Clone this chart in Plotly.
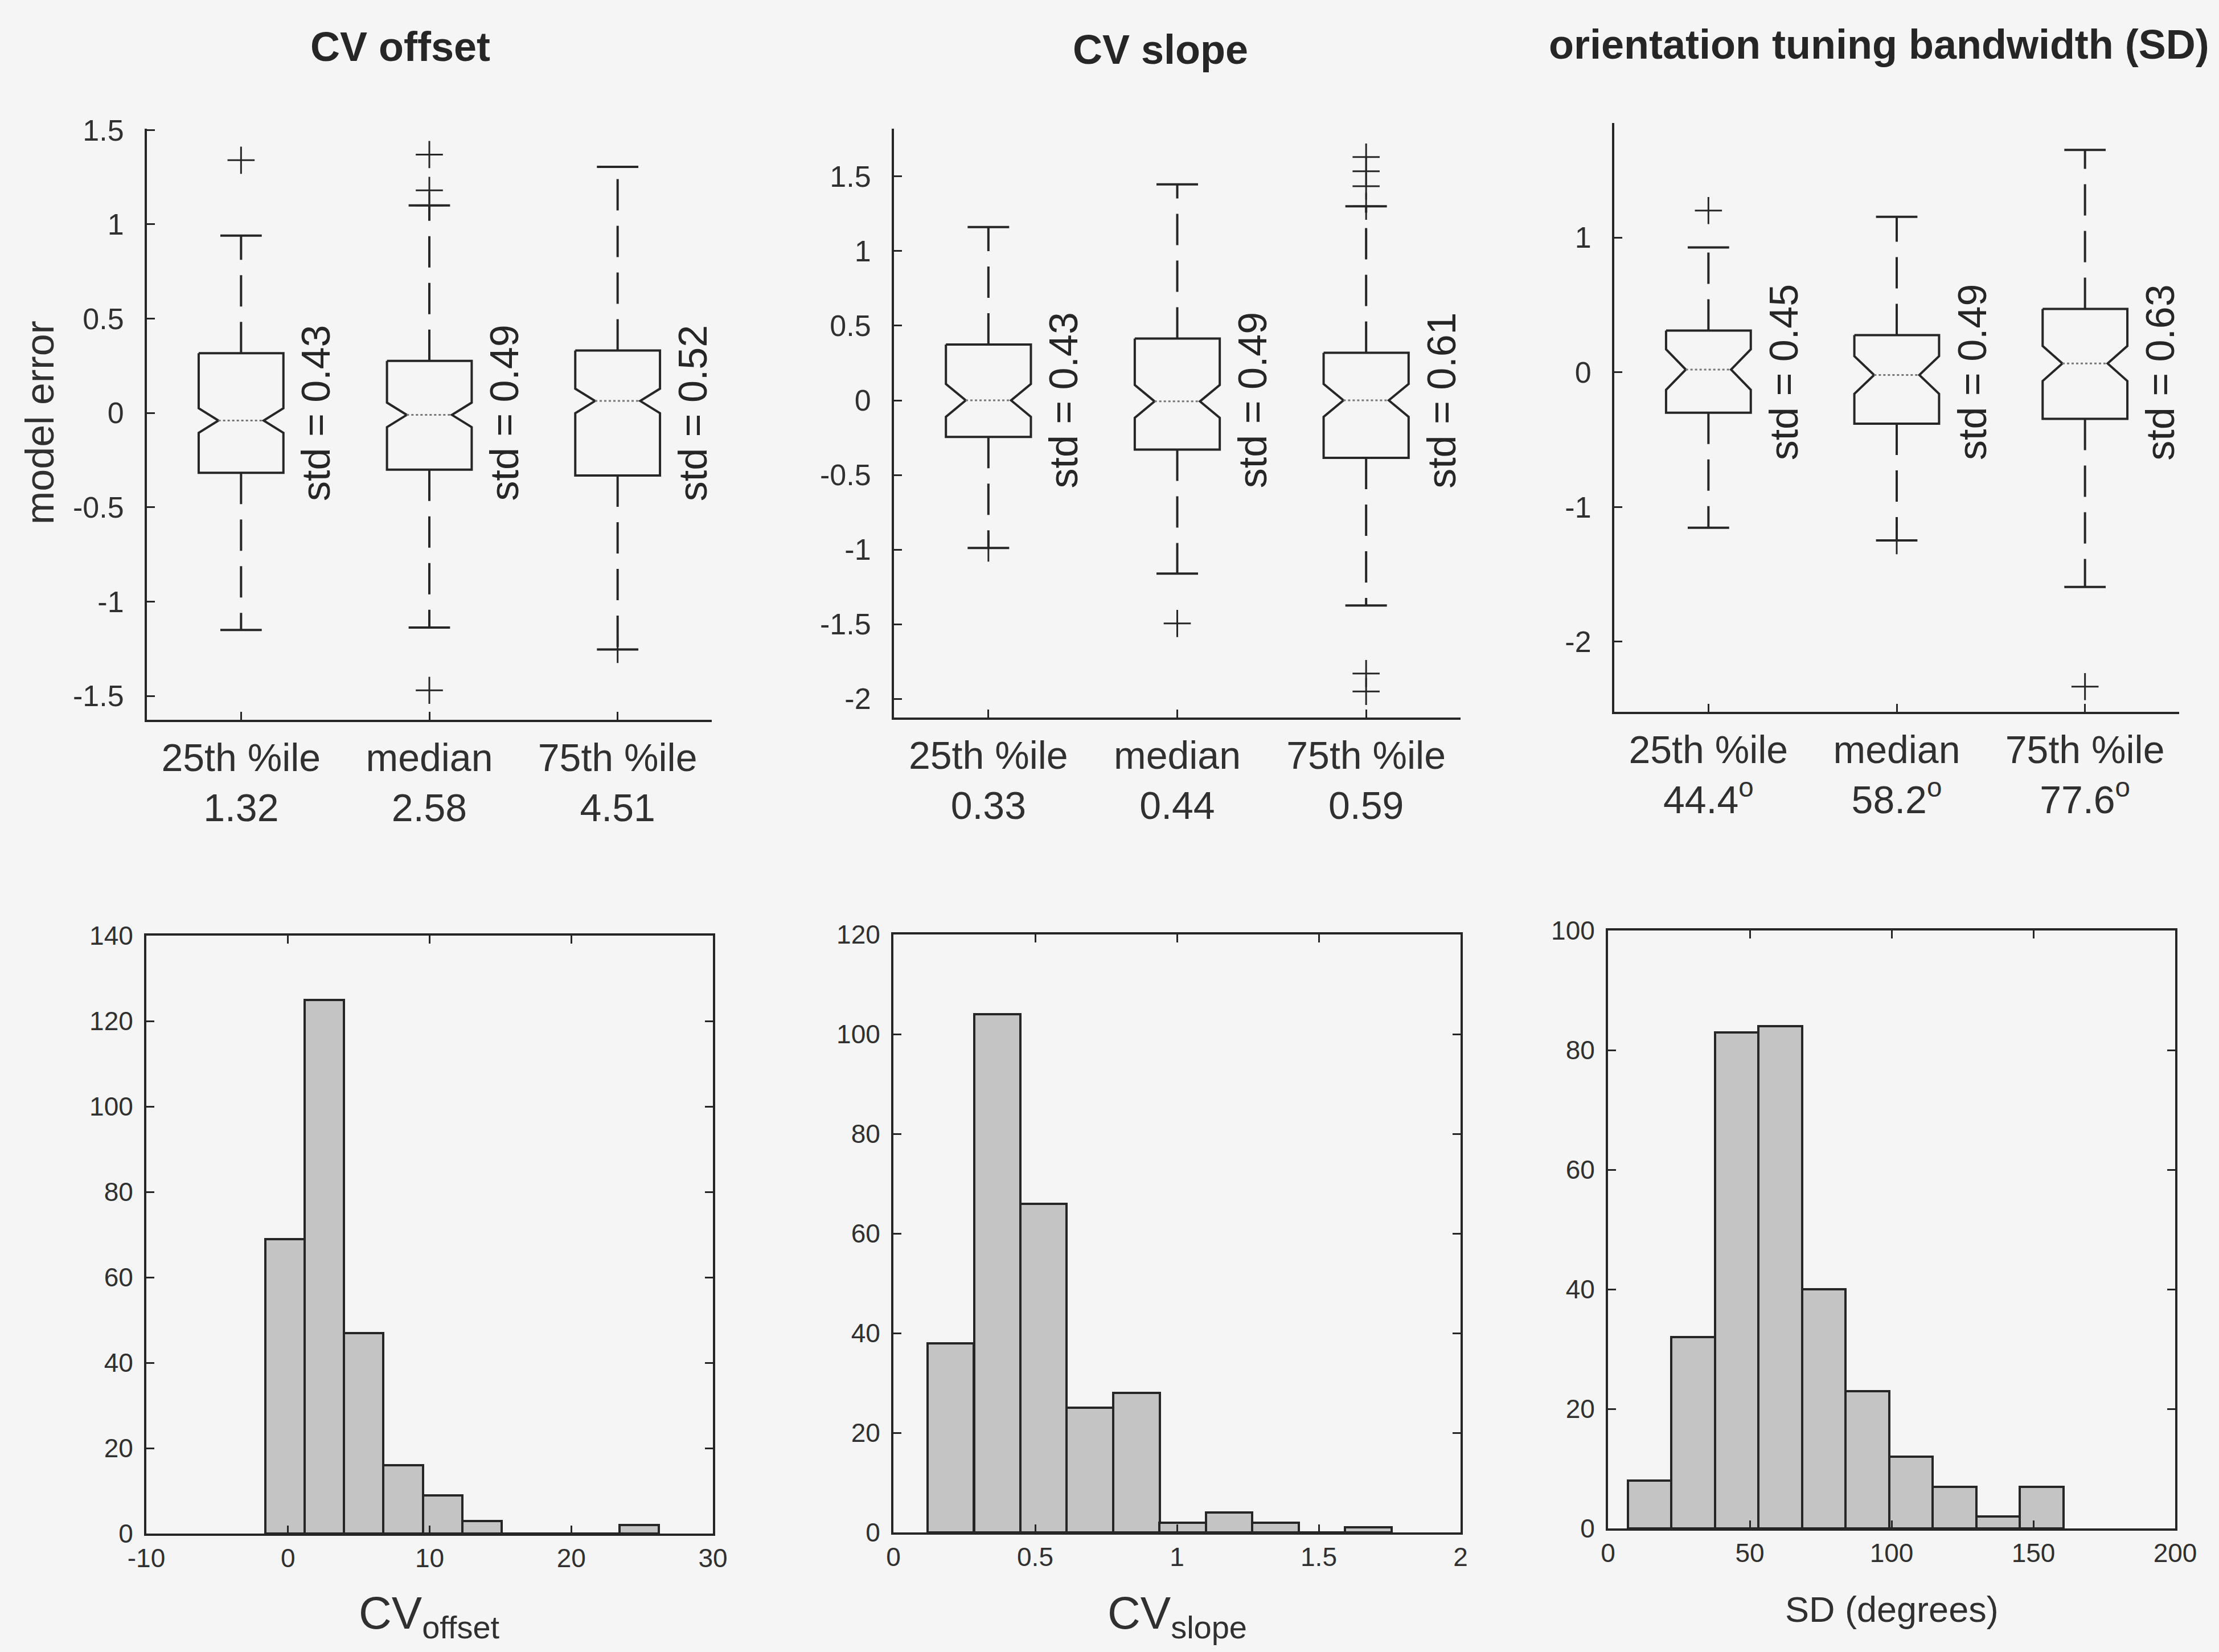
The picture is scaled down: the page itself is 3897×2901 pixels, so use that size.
import plotly.graph_objects as go

W, H = 3897, 2901
BG = "#f5f5f5"
INK = "#262626"
FONT = "Liberation Sans, Arial, Helvetica, sans-serif"

# ------------------------------------------------------------------ data
positions = [1, 2, 3]

titles = ["CV offset", "CV slope", "orientation tuning bandwidth (SD)"]

labels_offset = ["25th %ile<br>1.32", "median<br>2.58", "75th %ile<br>4.51"]
labels_slope = ["25th %ile<br>0.33", "median<br>0.44", "75th %ile<br>0.59"]
labels_sd = ["25th %ile<br>44.4<sup>o</sup>", "median<br>58.2<sup>o</sup>", "75th %ile<br>77.6<sup>o</sup>"]

# CV offset model error boxes
off_q1 = [-0.317, -0.300, -0.331]
off_med = [-0.040, -0.010, 0.064]
off_q3 = [0.317, 0.276, 0.331]
off_lo = [-1.150, -1.137, -1.253]
off_hi = [0.940, 1.100, 1.305]
off_notch = [0.065, 0.065, 0.065]
off_out_x = [1, 2, 2, 2, 2, 3]
off_out_y = [1.34, 1.37, 1.18, 1.10, -1.47, -1.253]
off_std = ["0.43", "0.49", "0.52"]

# CV slope model error boxes
slp_q1 = [-0.245, -0.330, -0.385]
slp_med = [0.000, -0.007, 0.000]
slp_q3 = [0.374, 0.414, 0.319]
slp_lo = [-0.989, -1.161, -1.374]
slp_hi = [1.161, 1.447, 1.300]
slp_notch = [0.11, 0.11, 0.11]
slp_out_x = [1, 2, 3, 3, 3, 3, 3, 3]
slp_out_y = [-0.99, -1.495, 1.63, 1.535, 1.435, 1.30, -1.83, -1.95]
slp_std = ["0.43", "0.49", "0.61"]

# orientation tuning bandwidth model error boxes
sd_q1 = [-0.300, -0.382, -0.346]
sd_med = [0.020, -0.020, 0.065]
sd_q3 = [0.309, 0.276, 0.470]
sd_lo = [-1.154, -1.248, -1.593]
sd_hi = [0.927, 1.154, 1.650]
sd_notch = [0.15, 0.14, 0.13]
sd_out_x = [1, 2, 3]
sd_out_y = [1.20, -1.25, -2.333]
sd_std = ["0.45", "0.49", "0.63"]

# histograms
off_bin_centers = [-0.21, 2.57, 5.35, 8.13, 10.91, 13.69, 16.47, 19.25, 22.03, 24.81]
off_bin_width = 2.78
off_counts = [69, 125, 47, 16, 9, 3, 0, 0, 0, 2]

slp_bin_centers = [0.202, 0.366, 0.529, 0.693, 0.857, 1.020, 1.184, 1.347, 1.511, 1.675]
slp_bin_width = 0.1636
slp_counts = [38, 104, 66, 25, 28, 2, 4, 2, 0, 1]

sd_bin_centers = [14.68, 30.04, 45.40, 60.76, 76.12, 91.48, 106.84, 122.20, 137.56, 152.92]
sd_bin_width = 15.36
sd_counts = [8, 32, 83, 84, 40, 23, 12, 7, 2, 7]

# tick values
off_yticks = [-1.5, -1, -0.5, 0, 0.5, 1, 1.5]
slp_yticks = [-2, -1.5, -1, -0.5, 0, 0.5, 1, 1.5]
sd_yticks = [-2, -1, 0, 1]
h1_xticks = [-10, 0, 10, 20, 30]
h1_yticks = [0, 20, 40, 60, 80, 100, 120, 140]
h2_xticks = [0, 0.5, 1, 1.5, 2]
h2_yticks = [0, 20, 40, 60, 80, 100, 120]
h3_xticks = [0, 50, 100, 150, 200]
h3_yticks = [0, 20, 40, 60, 80, 100]

# ------------------------------------------------------------------ styling constants
BOX_HW = 0.225     # box half width (category units)
NOTCH_HW = 0.12    # half width at the notch waist
CAP_HW = 0.11      # whisker cap half width
LW = 4

# panel rectangles in pixels: left, right, top, bottom
rects = {
    1: (258, 1250, 226, 1264),
    2: (1570, 2565, 226, 1260),
    3: (2835, 3827, 216, 1250),
    4: (257, 1252, 1643, 2693),
    5: (1569, 2565, 1641, 2691),
    6: (2824, 3820, 1634, 2684),
}


def dom(i):
    l, r, t, b = rects[i]
    return [l / W, r / W], [1 - b / H, 1 - t / H]


def fmt(v):
    return "%g" % v


fig = go.Figure()

box_sets = [
    (off_q1, off_med, off_q3, off_lo, off_hi, off_notch, off_out_x, off_out_y, off_std),
    (slp_q1, slp_med, slp_q3, slp_lo, slp_hi, slp_notch, slp_out_x, slp_out_y, slp_std),
    (sd_q1, sd_med, sd_q3, sd_lo, sd_hi, sd_notch, sd_out_x, sd_out_y, sd_std),
]

annotations = []

for p, (q1s, meds, q3s, los, his, notches, ox, oy, stds) in enumerate(box_sets, start=1):
    xa = "x" if p == 1 else "x%d" % p
    ya = "y" if p == 1 else "y%d" % p
    for c, q1, md, q3, lo, hi, n in zip(positions, q1s, meds, q3s, los, his, notches):
        bx = [c - BOX_HW, c + BOX_HW, c + BOX_HW, c + NOTCH_HW, c + BOX_HW, c + BOX_HW,
              c - BOX_HW, c - BOX_HW, c - NOTCH_HW, c - BOX_HW, c - BOX_HW]
        by = [q3, q3, md + n, md, md - n, q1, q1, md - n, md, md + n, q3]
        fig.add_trace(go.Scatter(x=bx, y=by, mode="lines", xaxis=xa, yaxis=ya,
                                 line=dict(color=INK, width=LW), hoverinfo="skip"))
        fig.add_trace(go.Scatter(x=[c - NOTCH_HW, c + NOTCH_HW], y=[md, md], mode="lines",
                                 xaxis=xa, yaxis=ya,
                                 line=dict(color="#777777", width=3, dash="4px,4px"),
                                 hoverinfo="skip"))
        fig.add_trace(go.Scatter(x=[c, c], y=[q3, hi], mode="lines", xaxis=xa, yaxis=ya,
                                 line=dict(color=INK, width=LW, dash="55px,27px"),
                                 hoverinfo="skip"))
        fig.add_trace(go.Scatter(x=[c, c], y=[q1, lo], mode="lines", xaxis=xa, yaxis=ya,
                                 line=dict(color=INK, width=LW, dash="55px,27px"),
                                 hoverinfo="skip"))
        fig.add_trace(go.Scatter(x=[c - CAP_HW, c + CAP_HW, None, c - CAP_HW, c + CAP_HW],
                                 y=[hi, hi, None, lo, lo], mode="lines", xaxis=xa, yaxis=ya,
                                 line=dict(color=INK, width=LW), hoverinfo="skip"))
    fig.add_trace(go.Scatter(x=ox, y=oy, mode="markers", xaxis=xa, yaxis=ya,
                             marker=dict(symbol="cross-thin", size=34, color=INK,
                                         line=dict(color=INK, width=3)),
                             hoverinfo="skip"))
    for c, s in zip(positions, stds):
        annotations.append(dict(x=c + 0.4, y=0, xref=xa, yref=ya, text="std = " + s,
                                textangle=-90, showarrow=False,
                                xanchor="center", yanchor="middle",
                                font=dict(family=FONT, size=70, color=INK)))

hist_sets = [
    (off_bin_centers, off_bin_width, off_counts),
    (slp_bin_centers, slp_bin_width, slp_counts),
    (sd_bin_centers, sd_bin_width, sd_counts),
]
for k, (cx, bw, cnt) in enumerate(hist_sets, start=4):
    fig.add_trace(go.Bar(x=cx, y=cnt, width=bw, xaxis="x%d" % k, yaxis="y%d" % k,
                         marker=dict(color="#c4c4c4", line=dict(color=INK, width=LW)),
                         hoverinfo="skip"))

# ------------------------------------------------------------------ axes
common = dict(showline=True, linewidth=LW, linecolor=INK, ticks="inside", ticklen=14,
              tickwidth=3, tickcolor=INK, showgrid=False, zeroline=False,
              automargin=False, tickfont=dict(family=FONT, color="#303030"))

layout = dict(template="none", width=W, height=H, autosize=False,
              margin=dict(l=0, r=0, t=0, b=0, pad=0, autoexpand=False),
              paper_bgcolor=BG, plot_bgcolor=BG, showlegend=False, bargap=0,
              font=dict(family=FONT, color=INK))

box_labels = [labels_offset, labels_slope, labels_sd]
box_yticks = [off_yticks, slp_yticks, sd_yticks]
box_yranges = [[-1.626, 1.507], [-2.125, 1.82], [-2.52, 1.85]]
for p in range(1, 4):
    xd, yd = dom(p)
    xk = "xaxis" if p == 1 else "xaxis%d" % p
    yk = "yaxis" if p == 1 else "yaxis%d" % p
    ya = "y" if p == 1 else "y%d" % p
    xa = "x" if p == 1 else "x%d" % p
    ax = dict(common)
    ax.update(domain=xd, range=[0.5, 3.5], anchor=ya, tickvals=positions,
              ticktext=box_labels[p - 1], ticklabelstandoff=4,
              tickfont=dict(family=FONT, size=68, color="#303030"))
    layout[xk] = ax
    ay = dict(common)
    yt = box_yticks[p - 1]
    ay.update(domain=yd, range=box_yranges[p - 1], anchor=xa, tickvals=yt,
              ticktext=[fmt(v) for v in yt], ticklabelstandoff=26,
              tickfont=dict(family=FONT, size=52, color="#303030"))
    layout[yk] = ay

hist_x = [h1_xticks, h2_xticks, h3_xticks]
hist_y = [h1_yticks, h2_yticks, h3_yticks]
for k in range(4, 7):
    xd, yd = dom(k)
    xt = hist_x[k - 4]
    yt = hist_y[k - 4]
    ax = dict(common)
    ax.update(domain=xd, range=[xt[0], xt[-1]], anchor="y%d" % k, mirror="ticks",
              tickvals=xt, ticktext=[fmt(v) for v in xt], ticklabelstandoff=0,
              tickfont=dict(family=FONT, size=46, color="#303030"))
    layout["xaxis%d" % k] = ax
    ay = dict(common)
    ay.update(domain=yd, range=[yt[0], yt[-1]], anchor="x%d" % k, mirror="ticks",
              tickvals=yt, ticktext=[fmt(v) for v in yt], ticklabelstandoff=10,
              tickfont=dict(family=FONT, size=46, color="#303030"))
    layout["yaxis%d" % k] = ay

# ------------------------------------------------------------------ text
title_pos = [(703, 82), (2038, 87), (3300, 78)]
for t, (x, y) in zip(titles, title_pos):
    annotations.append(dict(x=x / W, y=1 - y / H, xref="paper", yref="paper", text="<b>%s</b>" % t,
                            showarrow=False, xanchor="center", yanchor="middle",
                            font=dict(family=FONT, size=72, color=INK)))

annotations.append(dict(x=70 / W, y=1 - 742 / H, xref="paper", yref="paper", text="model error",
                        textangle=-90, showarrow=False, xanchor="center", yanchor="middle",
                        font=dict(family=FONT, size=70, color="#303030")))

xlabels = [("CV<sub>offset</sub>", 754, 2838, 80), ("CV<sub>slope</sub>", 2067, 2838, 80),
           ("SD (degrees)", 3322, 2826, 63)]
for txt, x, y, s in xlabels:
    annotations.append(dict(x=x / W, y=1 - y / H, xref="paper", yref="paper", text=txt,
                            showarrow=False, xanchor="center", yanchor="middle",
                            font=dict(family=FONT, size=s, color="#303030")))

layout["annotations"] = annotations
fig.update_layout(**layout)
fig.write_html("out.html", config={"displayModeBar": False},
               post_script="document.body.style.margin='0px';document.body.style.overflow='hidden';")
